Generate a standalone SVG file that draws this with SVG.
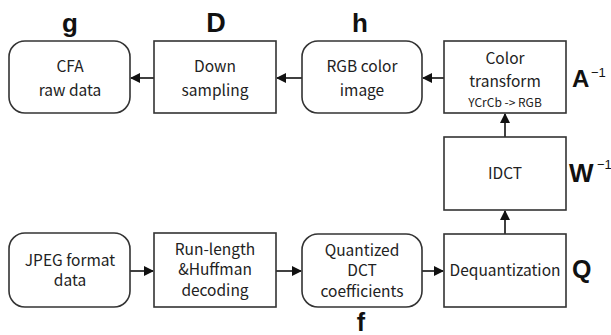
<svg xmlns="http://www.w3.org/2000/svg" width="611" height="335" viewBox="0 0 611 335">
<defs>
<marker id="ah" markerWidth="10" markerHeight="10" refX="9" refY="5" orient="auto" markerUnits="userSpaceOnUse">
<path d="M0,0 L10,5 L0,10 z" fill="#111"/>
</marker>
<style>
.box{fill:#fff;stroke:#333;stroke-width:1.6}
.t{font-family:"Noto Sans CJK JP","Liberation Sans",sans-serif;font-size:15.5px;fill:#222;text-anchor:middle}
.s{font-size:12px}
.big{font-family:"Liberation Sans","Noto Sans",sans-serif;font-size:26px;font-weight:bold;fill:#111}
.mid{text-anchor:middle}
.sup{font-family:"Liberation Sans",sans-serif;font-size:13px;fill:#111}
.c{stroke:#111;stroke-width:1.6;fill:none;marker-end:url(#ah)}
</style>
</defs>
<rect width="611" height="335" fill="#fff"/>
<g id="connectors">
<line class="c" x1="154" y1="78" x2="131" y2="78"/>
<line class="c" x1="302" y1="78" x2="277" y2="78"/>
<line class="c" x1="444" y1="78" x2="423" y2="78"/>
<line class="c" x1="505" y1="137" x2="505" y2="114"/>
<line class="c" x1="505" y1="234" x2="505" y2="211"/>
<line class="c" x1="130" y1="271" x2="153" y2="271"/>
<line class="c" x1="276" y1="271" x2="301" y2="271"/>
<line class="c" x1="422" y1="271" x2="443" y2="271"/>
</g>
<g id="cfa">
<rect class="box" x="9" y="41" width="121" height="72" rx="16"/>
<text class="t" x="70" y="72">CFA</text>
<text class="t" x="70" y="96">raw data</text>
<text class="big mid" x="70" y="32">g</text>
</g>
<g id="down">
<rect class="box" x="154" y="41" width="122" height="72"/>
<text class="t" x="215" y="72">Down</text>
<text class="t" x="215" y="96">sampling</text>
<text class="big mid" x="216" y="32" style="font-size:27px">D</text>
</g>
<g id="rgb">
<rect class="box" x="302" y="41" width="120" height="72" rx="16"/>
<text class="t" x="362" y="72">RGB color</text>
<text class="t" x="362" y="96">image</text>
<text class="big mid" x="360" y="32">h</text>
</g>
<g id="color">
<rect class="box" x="444" y="41" width="122" height="72"/>
<text class="t" x="505" y="64">Color</text>
<text class="t" x="505" y="87">transform</text>
<text class="t s" x="505" y="107">YCrCb -&gt; RGB</text>
<text class="big" x="572" y="87" style="font-size:24px">A</text>
<text class="sup" x="591" y="77">−1</text>
</g>
<g id="idct">
<rect class="box" x="444" y="137" width="122" height="73"/>
<text class="t" x="505" y="179">IDCT</text>
<text class="big" x="569" y="182" style="font-size:26px">W</text>
<text class="sup" x="597" y="169">−1</text>
</g>
<g id="jpeg">
<rect class="box" x="9" y="233" width="121" height="74" rx="16"/>
<text class="t" x="70" y="266">JPEG format</text>
<text class="t" x="70" y="286">data</text>
</g>
<g id="rle">
<rect class="box" x="154" y="233" width="122" height="74"/>
<text class="t" x="215" y="255">Run-length</text>
<text class="t" x="215" y="275">&amp;Huffman</text>
<text class="t" x="215" y="296">decoding</text>
</g>
<g id="quant">
<rect class="box" x="302" y="234" width="120" height="73" rx="16"/>
<text class="t" x="362" y="256">Quantized</text>
<text class="t" x="362" y="276">DCT</text>
<text class="t" x="362" y="297">coefficients</text>
<text class="big mid" x="361" y="331" style="font-size:25px">f</text>
</g>
<g id="deq">
<rect class="box" x="444" y="234" width="122" height="73"/>
<text class="t" x="505" y="276">Dequantization</text>
<text class="big" x="572" y="278" style="font-size:25px">Q</text>
</g>
</svg>
